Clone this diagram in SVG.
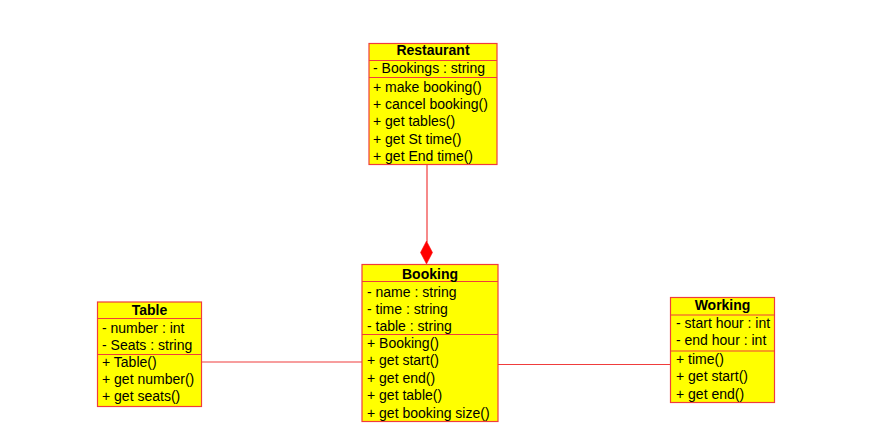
<svg xmlns="http://www.w3.org/2000/svg" width="872" height="447" viewBox="0 0 872 447">
<style>
.box{fill:#FFFF00;stroke:#F03C3C;stroke-width:1.2}
.div{stroke:#F03C3C;stroke-width:1.2}
.t{font-family:"Liberation Sans",Arial,sans-serif;font-size:14px;fill:#000}
.h{font-weight:bold;text-anchor:middle}
.c{stroke:#F03C3C;stroke-width:1.2;fill:none}
</style>
<rect width="872" height="447" fill="#fff"/>
<g id="connectors">
<line class="c" x1="427" y1="165" x2="427" y2="242"/>
<path d="M426.5,241 L432.5,252.5 L426.5,264 L420.5,252.5 Z" fill="#FF0000" stroke="#FF0000" stroke-width="0.5"/>
<line class="c" x1="202" y1="362" x2="362" y2="362"/>
<line class="c" x1="498" y1="364.5" x2="670" y2="364.5"/>
</g>
<g id="Restaurant">
<rect class="box" x="369" y="43.5" width="128" height="121"/>
<line class="div" x1="369" y1="60.5" x2="497" y2="60.5"/>
<line class="div" x1="369" y1="77.5" x2="497" y2="77.5"/>
<text class="t h" x="433" y="55">Restaurant</text>
<text class="t" x="373" y="73">- Bookings : string</text>
<text class="t" x="373" y="91.5">+ make booking()</text>
<text class="t" x="373" y="109">+ cancel booking()</text>
<text class="t" x="373" y="126.3">+ get tables()</text>
<text class="t" x="373" y="143.6">+ get St time()</text>
<text class="t" x="373" y="161">+ get End time()</text>
</g>
<g id="Booking">
<rect class="box" x="362" y="264.5" width="136" height="157"/>
<line class="div" x1="362" y1="281.5" x2="498" y2="281.5"/>
<line class="div" x1="362" y1="334.5" x2="498" y2="334.5"/>
<text class="t h" x="430" y="278.5">Booking</text>
<text class="t" x="367" y="296.5">- name : string</text>
<text class="t" x="367" y="313.5">- time : string</text>
<text class="t" x="367" y="330.5">- table : string</text>
<text class="t" x="367" y="348">+ Booking()</text>
<text class="t" x="367" y="365.3">+ get start()</text>
<text class="t" x="367" y="382.6">+ get end()</text>
<text class="t" x="367" y="400">+ get table()</text>
<text class="t" x="367" y="417.5">+ get booking size()</text>
</g>
<g id="Table">
<rect class="box" x="97.5" y="302" width="104" height="104.5"/>
<line class="div" x1="97.5" y1="318.5" x2="201.5" y2="318.5"/>
<line class="div" x1="97.5" y1="354.5" x2="201.5" y2="354.5"/>
<text class="t h" x="149.5" y="314.5">Table</text>
<text class="t" x="102" y="332.5">- number : int</text>
<text class="t" x="102" y="350">- Seats : string</text>
<text class="t" x="102" y="367">+ Table()</text>
<text class="t" x="102" y="384">+ get number()</text>
<text class="t" x="102" y="401">+ get seats()</text>
</g>
<g id="Working">
<rect class="box" x="670.5" y="297.5" width="104" height="105"/>
<line class="div" x1="670.5" y1="315" x2="774.5" y2="315"/>
<line class="div" x1="670.5" y1="351" x2="774.5" y2="351"/>
<text class="t h" x="722.5" y="310">Working</text>
<text class="t" x="676" y="327.5">- start hour : int</text>
<text class="t" x="676" y="345">- end hour : int</text>
<text class="t" x="676" y="363.5">+ time()</text>
<text class="t" x="676" y="381">+ get start()</text>
<text class="t" x="676" y="398.5">+ get end()</text>
</g>
</svg>
